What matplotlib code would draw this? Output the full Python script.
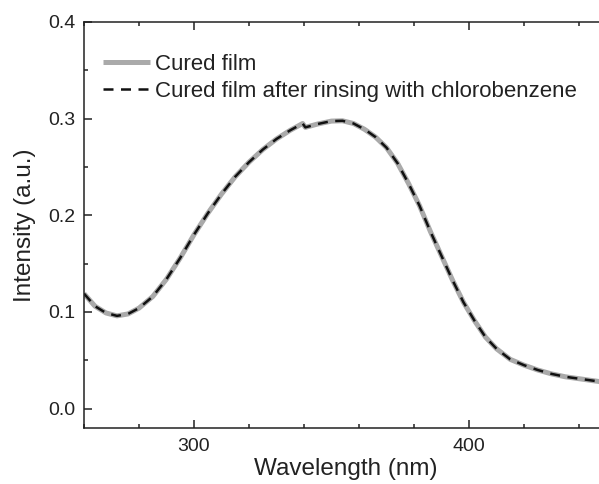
import matplotlib
matplotlib.use("Agg")
import matplotlib.pyplot as plt
from matplotlib.ticker import MultipleLocator

wavelength = [260, 264, 268, 272, 276, 280, 285, 290, 295, 300, 305, 310, 315, 320,
              325, 330, 335, 339.5, 340.5, 345, 350, 354, 358, 362, 366, 370, 374,
              378, 382, 386, 390, 394, 398, 402, 406, 410, 415, 420, 425, 430, 435,
              440, 445, 450]
cured = [0.119, 0.106, 0.099, 0.096, 0.098, 0.104, 0.116, 0.134, 0.156, 0.180,
         0.202, 0.222, 0.240, 0.255, 0.268, 0.279, 0.288, 0.295, 0.291, 0.2945,
         0.2975, 0.2978, 0.295, 0.289, 0.281, 0.270, 0.254, 0.233, 0.210, 0.183,
         0.158, 0.133, 0.110, 0.091, 0.074, 0.062, 0.051, 0.045, 0.040, 0.036,
         0.033, 0.031, 0.029, 0.027]
rinsed = list(cured)

labels = ["Cured film", "Cured film after rinsing with chlorobenzene"]

plt.rcParams['font.family'] = ['Liberation Sans', 'DejaVu Sans']
W, H = 599, 484
fig = plt.figure(figsize=(W/100, H/100), dpi=100)
ax = fig.add_axes([84/W, 1-428/H, (606.5-84)/W, (428-22)/H])

ax.plot(wavelength, cured, color='#aaaaaa', lw=3.6, solid_capstyle='butt',
        solid_joinstyle='round', label=labels[0])
ax.plot(wavelength, rinsed, color='#111111', lw=1.8, dashes=(4, 3), label=labels[1])

ax.set_xlim(260, 450)
ax.set_ylim(-0.02, 0.4)
ax.xaxis.set_major_locator(MultipleLocator(100))
ax.xaxis.set_minor_locator(MultipleLocator(20))
ax.yaxis.set_major_locator(MultipleLocator(0.1))
ax.yaxis.set_minor_locator(MultipleLocator(0.05))
ax.yaxis.set_major_formatter(plt.FuncFormatter(lambda v, p: f"{v:.1f}"))

for s in ax.spines.values():
    s.set_linewidth(1.1)
    s.set_color('#222222')
ax.tick_params(which='both', direction='in', top=True, right=True, color='#222222',
               labelsize=14, labelcolor='#222222', width=1.1)
ax.tick_params(which='major', length=6)
ax.tick_params(which='minor', length=3)
ax.tick_params(axis='x', pad=7)
ax.tick_params(axis='y', pad=6)

ax.set_xlabel("Wavelength (nm)", fontsize=17.5, color='#222222', labelpad=2)
ax.set_ylabel("Intensity (a.u.)", fontsize=17.5, color='#222222', labelpad=9)

leg = ax.legend(loc='upper left', bbox_to_anchor=(103/W, 1-54/H), bbox_transform=fig.transFigure,
                frameon=False, fontsize=16, handlelength=2.1, handletextpad=0.25,
                labelspacing=0.25, borderpad=0, borderaxespad=0)
for t in leg.get_texts():
    t.set_color('#222222')

fig.savefig("out.png", dpi=100)
